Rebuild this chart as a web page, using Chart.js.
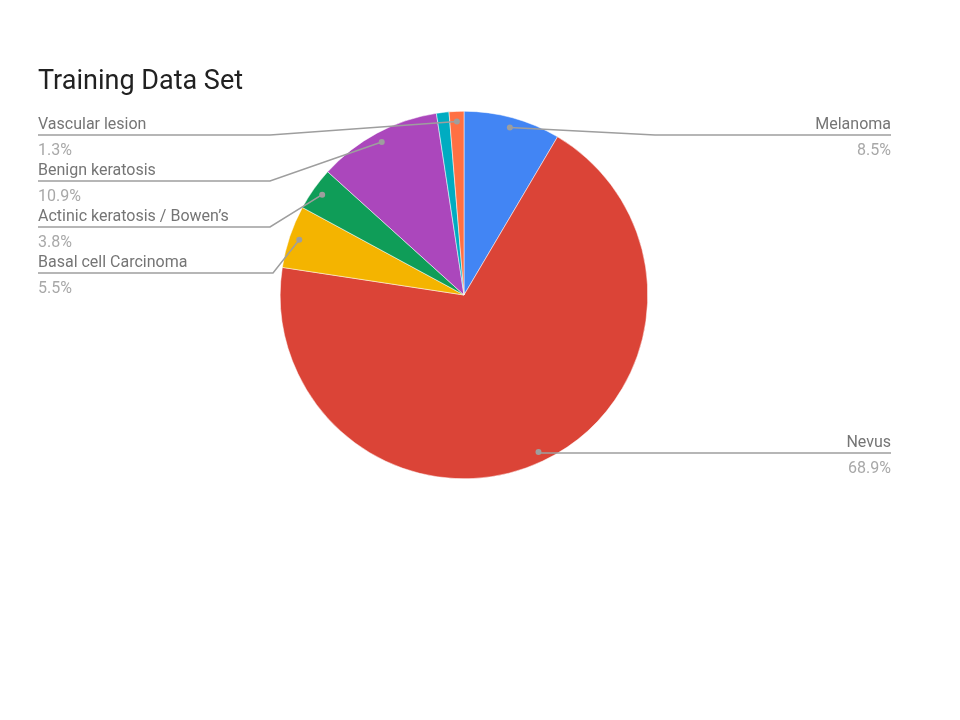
<!DOCTYPE html>
<html>
<head>
<meta charset="utf-8">
<script src="https://cdn.jsdelivr.net/npm/chart.js@4"></script>
<style>
  body { margin: 0; background: #fff; }
</style>
</head>
<body>
<canvas id="pie" width="960" height="720"></canvas>
<script>
var categories = ['Melanoma', 'Nevus', 'Basal cell Carcinoma', 'Actinic keratosis / Bowen\u2019s', 'Benign keratosis', 'Dermatofibroma', 'Vascular lesion'];
var shares = [8.5, 68.9, 5.5, 3.8, 10.9, 1.1, 1.3];
var colors = ['#4285f4', '#db4437', '#f4b400', '#0f9d58', '#ab47bc', '#00acc1', '#ff7043'];

// where each label sits: side and y of its underline (null = no label)
var labelSpots = [
  { side: 'right', y: 135, elbow: 655 },
  { side: 'right', y: 453, elbow: 540 },
  { side: 'left', y: 273, elbow: 273 },
  { side: 'left', y: 227, elbow: 270 },
  { side: 'left', y: 181, elbow: 270 },
  null,
  { side: 'left', y: 135, elbow: 270 }
];

var leaderLabels = {
  id: 'leaderLabels',
  afterDraw: function(chart) {
    var ctx = chart.ctx;
    var meta = chart.getDatasetMeta(0);
    ctx.save();

    ctx.fillStyle = '#212121';
    ctx.font = '27px Roboto';
    ctx.textBaseline = 'alphabetic';
    ctx.textAlign = 'left';
    ctx.fillText('Training Data Set', 38, 89);

    meta.data.forEach(function(arc, i) {
      var spot = labelSpots[i];
      if (!spot) return;
      var p = arc.getProps(['x', 'y', 'startAngle', 'endAngle', 'outerRadius'], true);
      var mid = (p.startAngle + p.endAngle) / 2;
      var r = p.outerRadius - 10;
      var dx = p.x + Math.cos(mid) * r;
      var dy = p.y + Math.sin(mid) * r;

      var left = 38, right = 891;
      ctx.strokeStyle = '#9e9e9e';
      ctx.lineWidth = 1.5;
      ctx.beginPath();
      if (spot.side === 'left') {
        ctx.moveTo(left, spot.y);
        ctx.lineTo(spot.elbow, spot.y);
      } else {
        ctx.moveTo(right, spot.y);
        ctx.lineTo(spot.elbow, spot.y);
      }
      ctx.lineTo(dx, dy);
      ctx.stroke();

      ctx.fillStyle = '#9e9e9e';
      ctx.beginPath();
      ctx.arc(dx, dy, 3, 0, Math.PI * 2);
      ctx.fill();

      ctx.textAlign = spot.side === 'left' ? 'left' : 'right';
      var tx = spot.side === 'left' ? left : right;
      ctx.font = '16px Roboto';
      ctx.fillStyle = '#757575';
      ctx.fillText(categories[i], tx, spot.y - 6);
      ctx.fillStyle = '#a8a8a8';
      ctx.fillText(shares[i].toFixed(1) + '%', tx, spot.y + 20);
    });
    ctx.restore();
  }
};

new Chart(document.getElementById('pie').getContext('2d'), {
  type: 'pie',
  data: {
    labels: categories,
    datasets: [{
      data: shares,
      backgroundColor: colors,
      borderColor: '#ffffff',
      borderWidth: 0.5
    }]
  },
  options: {
    responsive: false,
    animation: false,
    layout: { padding: { left: 280, right: 312, top: 111, bottom: 241 } },
    plugins: {
      legend: { display: false },
      tooltip: { enabled: false }
    }
  },
  plugins: [leaderLabels]
});
</script>
</body>
</html>
